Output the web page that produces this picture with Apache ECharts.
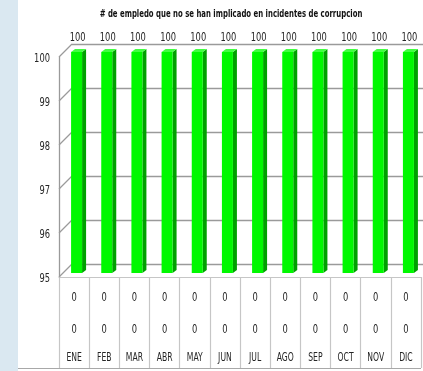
<!DOCTYPE html>
<html>
<head>
<meta charset="utf-8">
<script src="https://cdn.jsdelivr.net/npm/echarts@6/dist/echarts.min.js"></script>
<style>
  html, body { margin: 0; padding: 0; background: #ffffff; }
  #chart { width: 423px; height: 371px; }
</style>
</head>
<body>
<div id="chart"></div>
<script>
// Monthly categories and values
const months = ['ENE', 'FEB', 'MAR', 'ABR', 'MAY', 'JUN', 'JUL', 'AGO', 'SEP', 'OCT', 'NOV', 'DIC'];
const empleados = [100, 100, 100, 100, 100, 100, 100, 100, 100, 100, 100, 100];
const filaTabla1 = [0, 0, 0, 0, 0, 0, 0, 0, 0, 0, 0, 0];
const filaTabla2 = [0, 0, 0, 0, 0, 0, 0, 0, 0, 0, 0, 0];
const yTicks = [95, 96, 97, 98, 99, 100];
const yMin = 95, yMax = 100, yStep = 1;

const FONT = '"DejaVu Sans Condensed", "Liberation Sans Narrow", sans-serif';
const NARROW = 0.74;     // horizontal squeeze for the condensed text look
const DEPTH = 13;        // wall depth offset (px)
const GRID_COLOR = '#9a9a9a';
const TABLE_COLOR = '#c6c6c6';
const TEXT_COLOR = '#262626';

const chart = echarts.init(document.getElementById('chart'));

function narrowText(x, y, text, size, align) {
  return {
    type: 'text', x: x, y: y, scaleX: NARROW,
    style: { text: text, font: size + 'px ' + FONT, fill: TEXT_COLOR, align: align || 'center', verticalAlign: 'middle' }
  };
}

// 3D-looking column: front face, side face and top face, plus its value
function renderBar(params, api) {
  const i = api.value(0);
  const v = api.value(1);
  const base = api.coord([i, yMin]);
  const top = api.coord([i, v]);
  const x0 = base[0] - 3;
  const w = 11;
  const d = 4;   // column depth
  const yb = base[1] - 4;
  const yt = top[1] - 5;
  return {
    type: 'group',
    children: [
      { type: 'polygon', shape: { points: [[x0 + w, yt], [x0 + w + d, yt - 3], [x0 + w + d, yb - 3], [x0 + w, yb]] },
        style: { fill: '#00a000' } },
      { type: 'polygon', shape: { points: [[x0, yt], [x0 + d, yt - 3], [x0 + w + d, yt - 3], [x0 + w, yt]] },
        style: { fill: '#40ff40' } },
      { type: 'rect', shape: { x: x0, y: yt, width: w, height: yb - yt },
        style: { fill: '#00f800' } },
      narrowText(x0 + w / 2 + 1, yt - 14, String(v), 12.5)
    ]
  };
}

// Diagonal ticks joining the front axis to the back wall, with the tick value
function renderTick(params, api) {
  const v = api.value(0);
  const y = api.coord([0, v])[1];
  const x = params.coordSys.x;
  return {
    type: 'group',
    children: [
      { type: 'line', shape: { x1: x, y1: y, x2: x + DEPTH, y2: y - DEPTH },
        style: { stroke: GRID_COLOR, lineWidth: 1.3 } },
      narrowText(x - 9, y + 2, String(v), 12.5, 'right')
    ]
  };
}

// Data table cells under each category
function renderTable(params, api) {
  const i = api.value(0);
  const p = api.coord([i, yMin]);
  return {
    type: 'group',
    children: [
      narrowText(p[0], p[1] + 21, String(filaTabla1[i]), 12.5),
      narrowText(p[0], p[1] + 53, String(filaTabla2[i]), 12.5),
      narrowText(p[0], p[1] + 81, months[i], 11.5)
    ]
  };
}

const option = {
  animation: false,
  backgroundColor: '#ffffff',
  graphic: [
    { type: 'rect', shape: { x: 0, y: 0, width: 18, height: 371 }, style: { fill: '#dae8f1' }, z: 0 },
    { type: 'line', shape: { x1: 18, y1: 368.5, x2: 421, y2: 368.5 }, style: { stroke: '#a8a8a8', lineWidth: 1 } },
    { type: 'text', x: 231, y: 14, scaleX: 0.77,
      style: { text: '# de empledo que no se han implicado en incidentes de corrupcion',
               font: 'bold 10px ' + FONT, fill: '#111', align: 'center', verticalAlign: 'middle' } }
  ],
  grid: [
    { left: 59, right: 2, top: 57, bottom: 94 },
    { left: 72, right: -11, top: 44, bottom: 107 }
  ],
  xAxis: [
    {
      type: 'category', gridIndex: 0, data: months,
      axisLine: { show: true, lineStyle: { color: TABLE_COLOR, width: 1 } },
      axisTick: { show: true, interval: 0, length: 91, lineStyle: { color: TABLE_COLOR, width: 1.2 } },
      axisLabel: { show: false, interval: 0 },
      splitLine: { show: false }
    },
    {
      type: 'category', gridIndex: 1, data: months, show: false
    }
  ],
  yAxis: [
    {
      type: 'value', gridIndex: 0, min: yMin, max: yMax, interval: yStep,
      axisLine: { show: true, lineStyle: { color: GRID_COLOR, width: 1.3 } },
      axisTick: { show: false },
      splitLine: { show: false },
      axisLabel: { show: false }
    },
    {
      type: 'value', gridIndex: 1, min: yMin, max: yMax, interval: yStep,
      axisLine: { show: false }, axisTick: { show: false }, axisLabel: { show: false },
      splitLine: { show: true, lineStyle: { color: GRID_COLOR, width: 1.3 } }
    }
  ],
  series: [
    {
      type: 'custom', xAxisIndex: 0, yAxisIndex: 0,
      data: yTicks.map(v => [v]),
      encode: { y: 0 },
      renderItem: renderTick, z: 1, silent: true, clip: false
    },
    {
      type: 'custom', xAxisIndex: 0, yAxisIndex: 0,
      data: empleados.map((v, i) => [i, v]),
      encode: { x: 0, y: 1 },
      renderItem: renderBar, z: 3, silent: true, clip: false
    },
    {
      type: 'custom', xAxisIndex: 0, yAxisIndex: 0,
      data: months.map((m, i) => [i]),
      encode: { x: 0 },
      renderItem: renderTable, z: 3, silent: true, clip: false
    }
  ]
};

chart.setOption(option);
</script>
</body>
</html>
